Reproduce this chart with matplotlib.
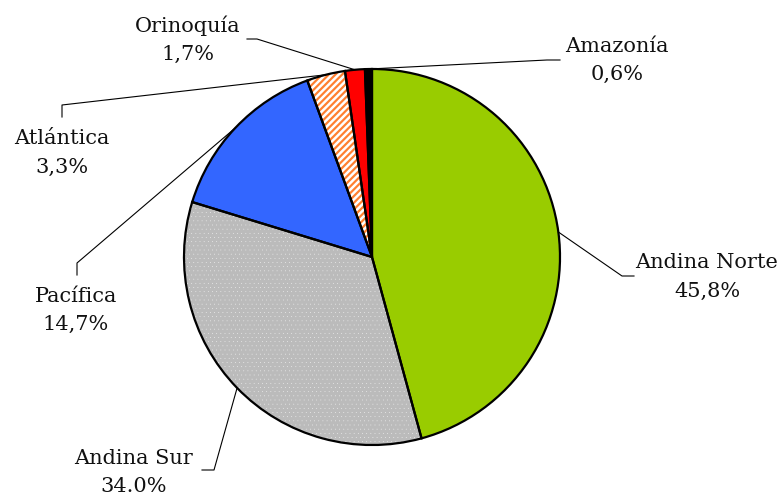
import numpy as np
import matplotlib.pyplot as plt

regions = ["Andina Norte", "Andina Sur", "Pacífica", "Atlántica", "Orinoquía", "Amazonía"]
shares = [45.8, 34.0, 14.7, 3.3, 1.7, 0.6]
share_labels = ["45,8%", "34.0%", "14,7%", "3,3%", "1,7%", "0,6%"]
colors = ["#99CC00", "#BBBBBB", "#3366FF", "#FF8030", "#FF0000", "#000000"]
hatches = [None, "....", None, "/////", None, None]
hatch_lw = [0, 0.0, 0, 1.8, 0, 0]

# layout in image pixels (y from top)
W, H = 784, 495
cx, cy, r = 372, 257, 188
label_pos = [(707, 277), (134, 472), (76, 310), (62, 153), (188, 40), (617, 60)]
elbows = [((622, 276), (634, 276)), ((214, 470), (202, 470)), ((77, 263), (77, 275)),
          ((62, 105), (62, 117)), ((257, 39), (247, 39)), ((547, 60), (560, 60))]

fig = plt.figure(figsize=(W / 100, H / 100), dpi=100)
ax = fig.add_axes([0, 0, 1, 1])

center = (cx, H - cy)
wedges, _ = ax.pie(shares, colors=colors, startangle=90, counterclock=False,
                   center=center, radius=r, wedgeprops=dict(linewidth=0), frame=True)
for w, h, hl in zip(wedges, hatches, hatch_lw):
    if h:
        w.set_hatch(h)
        w.set_edgecolor("white")
        w.set_linewidth(0)
        if hasattr(w, "set_hatch_linewidth"):
            w.set_hatch_linewidth(hl)
        else:
            w._hatch_linewidth = hl
ax.pie(shares, startangle=90, counterclock=False, center=center, radius=r,
       wedgeprops=dict(fill=False, edgecolor="black", linewidth=1.6), frame=True)
ax.set_xlim(0, W)
ax.set_ylim(0, H)
ax.set_aspect('equal')
ax.axis('off')

for w, name, lab, (lx, ly), (e1, e2) in zip(wedges, regions, share_labels, label_pos, elbows):
    ang = np.deg2rad((w.theta1 + w.theta2) / 2)
    sx = center[0] + r * np.cos(ang)
    sy = center[1] + r * np.sin(ang)
    ax.plot([sx, e1[0], e2[0]], [sy, H - e1[1], H - e2[1]], color="black", lw=0.8)
    ax.text(lx, H - ly, name + "\n" + lab, ha="center", va="center", fontsize=15,
            family="DejaVu Serif", linespacing=1.6, color="#111111")

fig.savefig("out.png", dpi=100)
